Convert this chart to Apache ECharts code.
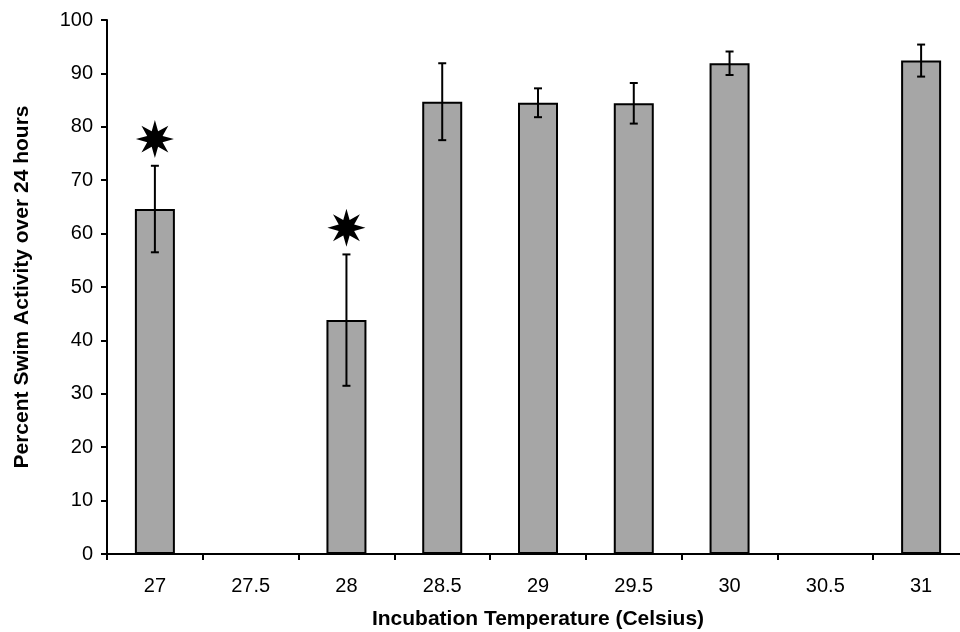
<!DOCTYPE html>
<html>
<head>
<meta charset="utf-8">
<script src="https://cdn.jsdelivr.net/npm/echarts@6/dist/echarts.min.js"></script>
<style>
  html, body { margin: 0; padding: 0; background: #fff; }
  #main { width: 960px; height: 632px; }
</style>
</head>
<body>
<div id="main"></div>
<script>
// temperatures (Celsius) on the x axis
var categories = ['27', '27.5', '28', '28.5', '29', '29.5', '30', '30.5', '31'];
// mean percent swim activity, null where no bar
var means = [64.6, null, 43.8, 84.7, 84.5, 84.4, 91.9, null, 92.4];
// error bar half lengths
var errors = [8.1, null, 12.3, 7.2, 2.7, 3.8, 2.2, null, 3.0];
// significance stars, placed at these values
var stars = [77.7, null, 61.1, null, null, null, null, null, null];

// eight-pointed star
var starPath = 'path://M50 0 L58.4 29.7 L85.36 14.64 L70.3 41.6 L100 50 L70.3 58.4 L85.36 85.36 L58.4 70.3 L50 100 L41.6 70.3 L14.64 85.36 L29.7 58.4 L0 50 L29.7 41.6 L14.64 14.64 L41.6 29.7 Z';

var errData = [];
means.forEach(function (m, i) {
  if (m != null) errData.push([i, m - errors[i], m + errors[i]]);
});
var starData = [];
stars.forEach(function (s, i) {
  if (s != null) starData.push([i, s]);
});

var chart = echarts.init(document.getElementById('main'), null, { renderer: 'canvas' });

var font = 'Liberation Sans, Arial, sans-serif';

var option = {
  backgroundColor: '#fff',
  animation: false,
  grid: { left: 107, top: 20, width: 862, height: 534, outerBoundsMode: 'none', containLabel: false },
  xAxis: {
    type: 'category',
    data: categories,
    boundaryGap: true,
    name: 'Incubation Temperature (Celsius)',
    nameLocation: 'middle',
    nameGap: 55,
    nameTextStyle: { fontFamily: font, fontSize: 21, fontWeight: 'bold', color: '#000' },
    axisLine: { lineStyle: { color: '#000', width: 2 } },
    axisTick: { show: true, length: 6, lineStyle: { color: '#000', width: 2 } },
    axisLabel: { fontFamily: font, fontSize: 20, color: '#000', margin: 22 }
  },
  yAxis: {
    type: 'value',
    min: 0,
    max: 100,
    interval: 10,
    name: 'Percent Swim Activity over 24 hours',
    nameLocation: 'middle',
    nameGap: 74,
    nameRotate: 90,
    nameTextStyle: { fontFamily: font, fontSize: 21, fontWeight: 'bold', color: '#000' },
    axisLine: { show: true, lineStyle: { color: '#000', width: 2 } },
    axisTick: { show: true, length: 6, lineStyle: { color: '#000', width: 2 } },
    axisLabel: { fontFamily: font, fontSize: 20, color: '#000', margin: 14 },
    splitLine: { show: false }
  },
  series: [
    {
      type: 'bar',
      data: means,
      barWidth: 40,
      itemStyle: { color: '#a6a6a6', borderColor: '#000', borderWidth: 2 }
    },
    {
      type: 'custom',
      data: errData,
      encode: { x: 0, y: [1, 2] },
      z: 5,
      renderItem: function (params, api) {
        var lo = api.coord([api.value(0), api.value(1)]);
        var hi = api.coord([api.value(0), api.value(2)]);
        var cap = 4;
        var st = { stroke: '#000', lineWidth: 2 };
        return {
          type: 'group',
          children: [
            { type: 'line', shape: { x1: lo[0], y1: lo[1], x2: hi[0], y2: hi[1] }, style: st },
            { type: 'line', shape: { x1: lo[0] - cap, y1: lo[1], x2: lo[0] + cap, y2: lo[1] }, style: st },
            { type: 'line', shape: { x1: hi[0] - cap, y1: hi[1], x2: hi[0] + cap, y2: hi[1] }, style: st }
          ]
        };
      }
    },
    {
      type: 'scatter',
      data: starData,
      symbol: starPath,
      symbolSize: 38,
      itemStyle: { color: '#000', opacity: 1 },
      z: 6
    }
  ]
};

chart.setOption(option);
</script>
</body>
</html>
